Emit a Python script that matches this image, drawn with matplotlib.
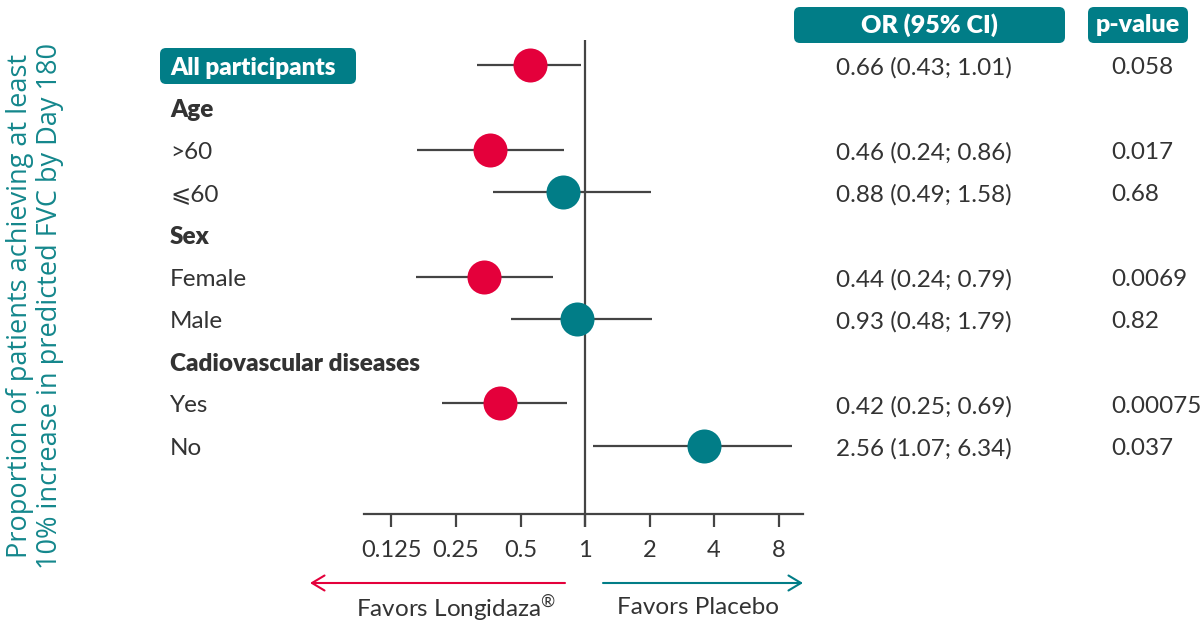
import numpy as np
import matplotlib
matplotlib.use("Agg")
import matplotlib.pyplot as plt
from matplotlib.patches import FancyBboxPatch, FancyArrowPatch
from matplotlib.transforms import blended_transform_factory

# ---------------- data ----------------
row_labels = ["All participants", "Age", ">60", "⩽60", "Sex", "Female", "Male",
              "Cadiovascular diseases", "Yes", "No"]
row_kind = ["box", "head", "item", "item", "head", "item", "item", "head", "item", "item"]

data_rows = [0, 2, 3, 5, 6, 8, 9]
est = [0.553, 0.362, 0.786, 0.339, 0.915, 0.401, 3.60]
ci_lo = [0.313, 0.165, 0.374, 0.162, 0.451, 0.214, 1.094]
ci_hi = [0.957, 0.800, 2.04, 0.708, 2.05, 0.825, 9.28]
dot_side = ["L", "L", "P", "L", "P", "L", "P"]   # colour group

or_text = ["0.66 (0.43; 1.01)", "0.46 (0.24; 0.86)", "0.88 (0.49; 1.58)",
           "0.44 (0.24; 0.79)", "0.93 (0.48; 1.79)", "0.42 (0.25; 0.69)",
           "2.56 (1.07; 6.34)"]
p_text = ["0.058", "0.017", "0.68", "0.0069", "0.82", "0.00075", "0.037"]

xticks = [0.125, 0.25, 0.5, 1, 2, 4, 8]
xtick_labels = ["0.125", "0.25", "0.5", "1", "2", "4", "8"]

ylabel = "Proportion of patients achieving at least\n10% increase in predicted FVC by Day 180"
left_label = "Favors Longidaza$^{®}$"
right_label = "Favors Placebo"

# ---------------- style ----------------
RED = "#E4003B"
TEAL = "#017D87"
DARK = "#333333"
LINE = "#444444"
FONT = ["Lato", "DejaVu Sans"]
plt.rcParams["font.family"] = FONT
plt.rcParams["mathtext.fontset"] = "custom"
plt.rcParams["mathtext.rm"] = "Lato"

W, H = 1200, 628
fig = plt.figure(figsize=(W / 100, H / 100), dpi=100)

def fx(px):
    return px / W

def fy(py):
    return 1 - py / H

# axes in pixel layout
ax_l, ax_r, ax_t, ax_b = 364, 803, 40, 514
ax = fig.add_axes([fx(ax_l), fy(ax_b), fx(ax_r - ax_l), (ax_b - ax_t) / H])
row0, drow = 65, 42.3
ax.set_ylim((ax_b - row0) / drow, (ax_t - row0) / drow)
ax.set_xscale("log", base=2)
b = 64.5
ax.set_xlim(2 ** ((ax_l - 585) / b), 2 ** ((ax_r - 585) / b))
ax.patch.set_visible(False)

for s in ["top", "right", "left"]:
    ax.spines[s].set_visible(False)
ax.spines["bottom"].set_color(LINE)
ax.spines["bottom"].set_linewidth(1.6)
ax.set_yticks([])
ax.set_xticks(xticks)
ax.set_xticklabels(xtick_labels)
ax.minorticks_off()
ax.tick_params(axis="x", length=9.5, width=1.6, color=LINE, labelsize=17,
               labelcolor=DARK, pad=9)

# vertical reference line at 1
y_bottom_line = (527 - row0) / drow
ax.plot([1, 1], [ax.get_ylim()[1], y_bottom_line], color=LINE, lw=1.6,
        clip_on=False, zorder=2, solid_capstyle="butt")

# CI lines + dots
for r, e, lo, hi, side in zip(data_rows, est, ci_lo, ci_hi, dot_side):
    ax.plot([lo, hi], [r, r], color=LINE, lw=1.6, zorder=3, solid_capstyle="butt")
    ax.plot([e], [r], "o", ms=24.5, color=RED if side == "L" else TEAL,
            mec="none", zorder=4)

# rounded boxes (in inches via dpi_scale_trans), drawn beneath everything
def rbox(x0, y0, x1, y1, color):
    p = FancyBboxPatch((x0 / 100, (H - y1) / 100), (x1 - x0) / 100, (y1 - y0) / 100,
                       boxstyle="round,pad=0,rounding_size=0.06",
                       transform=fig.dpi_scale_trans, facecolor=color,
                       edgecolor="none", zorder=-5)
    fig.patches.append(p)

rbox(160, 48, 356, 84, TEAL)
rbox(794, 7, 1065, 43, TEAL)
rbox(1088, 7, 1188, 43, TEAL)

# left row labels
tr = blended_transform_factory(fig.transFigure, ax.transData)
for i, (lab, kind) in enumerate(zip(row_labels, row_kind)):
    if kind == "box":
        ax.text(fx(170), i + 0.06, lab, transform=tr, ha="left", va="center",
                fontsize=17.5, fontweight="heavy", color="white", zorder=6)
    elif kind == "head":
        ax.text(fx(170), i + 0.06, lab, transform=tr, ha="left", va="center",
                fontsize=17.5, fontweight="heavy", color=DARK)
    else:
        ax.text(fx(170), i + 0.06, lab, transform=tr, ha="left", va="center",
                fontsize=17.5, color=DARK)

# OR and p columns
for r, ot, pt in zip(data_rows, or_text, p_text):
    ax.text(fx(836), r + 0.07, ot, transform=tr, ha="left", va="center",
            fontsize=17.5, color=DARK)
    ax.text(fx(1111), r + 0.07, pt, transform=tr, ha="left", va="center",
            fontsize=17.5, color=DARK)

fig.text(fx((794 + 1065) / 2), fy(25), "OR (95% CI)", ha="center", va="center",
         fontsize=18, fontweight="heavy", color="white")
fig.text(fx((1088 + 1188) / 2), fy(25), "p-value", ha="center", va="center",
         fontsize=18, fontweight="heavy", color="white")

# y label
fig.text(fx(35), fy(306), ylabel, rotation=90, ha="center", va="center",
         fontsize=19.5, color="#14878C", family=["Open Sans", "DejaVu Sans"],
         linespacing=1.1, multialignment="center")

# arrows
fig.add_artist(FancyArrowPatch(
    (fx(565), fy(583)), (fx(310), fy(583)), transform=fig.transFigure,
    arrowstyle="->,head_length=0.5,head_width=0.3", color=RED, lw=1.5,
    shrinkA=0, shrinkB=0, mutation_scale=18))
fig.add_artist(FancyArrowPatch(
    (fx(603), fy(583)), (fx(803), fy(583)), transform=fig.transFigure,
    arrowstyle="->,head_length=0.5,head_width=0.3", color=TEAL, lw=1.5,
    shrinkA=0, shrinkB=0, mutation_scale=18))
fig.text(fx(456), fy(608), left_label, ha="center", va="center", fontsize=17.5,
         color=DARK)
fig.text(fx(698), fy(607), right_label, ha="center", va="center", fontsize=17.5,
         color=DARK)

fig.savefig("out.png", dpi=100)
